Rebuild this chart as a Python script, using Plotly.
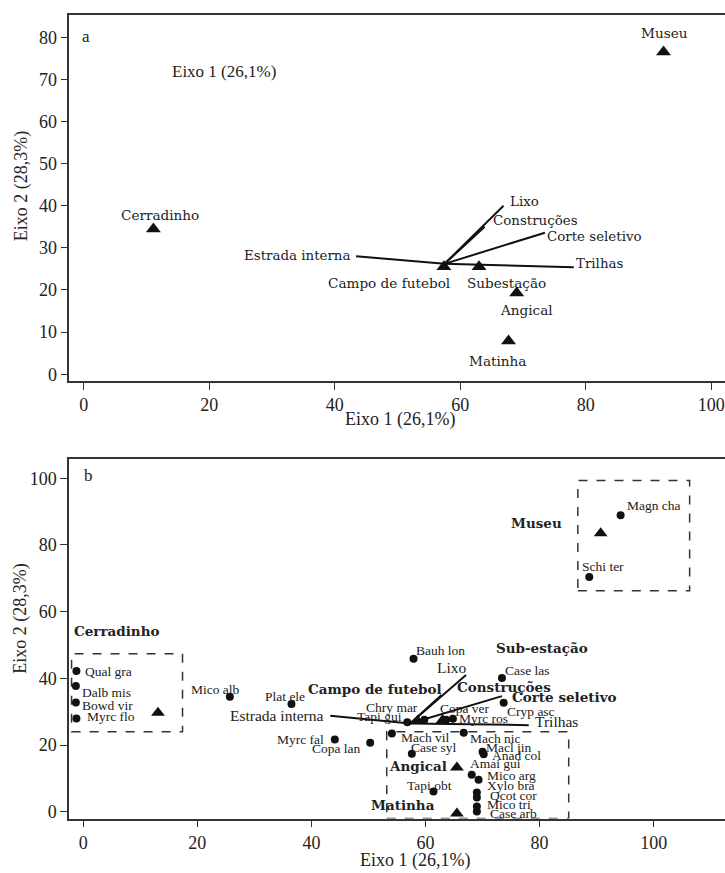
import plotly.graph_objects as go

# ---------------- Panel a data ----------------
a_sites = ["Museu", "Cerradinho", "Campo de futebol", "Subestação", "Angical", "Matinha"]
a_site_x = [92.4, 11.1, 57.4, 63.0, 69.0, 67.7]
a_site_y = [76.5, 34.5, 25.5, 25.5, 19.3, 7.9]
a_site_lx = [92.5, 12.2, 48.6, 67.4, 70.6, 65.9]
a_site_ly = [81.0, 37.7, 21.7, 21.7, 15.2, 3.2]

a_vec_names = ["Estrada interna", "Lixo", "Construções", "Corte seletivo", "Trilhas"]
a_vec_origin = (57.5, 26.2)
a_vec_x = [43.4, 66.9, 63.9, 73.5, 78.1]
a_vec_y = [28.0, 40.0, 35.0, 33.6, 25.4]
a_vec_lx = [42.8, 67.6, 64.9, 73.5, 78.1]
a_vec_ly = [28.1, 41.0, 36.5, 32.8, 26.2]
a_vec_anchor = ["right", "left", "left", "left", "left"]

# ---------------- Panel b data ----------------
b_sites = ["Cerradinho", "Museu", "Campo de futebol", "Sub-estação", "Angical", "Matinha"]
b_site_x = [13.1, 90.7, 58.6, 63.0, 65.5, 65.5]
b_site_y = [29.7, 83.5, 27.3, 27.5, 13.3, -0.5]
b_site_lx = [-1.9, 84.3, 51.2, 80.5, 58.6, 56.1]
b_site_ly = [54.1, 86.5, 36.8, 49.1, 13.6, 2.1]
b_site_anchor = ["left", "right", "center", "center", "center", "center"]

b_vec_names = ["Estrada interna", "Lixo", "Construções", "Corte seletivo", "Trilhas"]
b_vec_origin = (57.3, 26.5)
b_vec_x = [43.3, 67.1, 62.8, 73.4, 78.1]
b_vec_y = [28.8, 41.0, 35.0, 34.7, 26.0]
b_vec_lx = [42.6, 64.6, 65.2, 74.8, 78.9]
b_vec_ly = [29.0, 43.4, 37.5, 34.3, 27.2]
b_vec_anchor = ["right", "center", "left", "left", "left"]
b_vec_bold = [False, False, True, True, False]

species = ["Qual gra", "Dalb mis", "Bowd vir", "Myrc flo", "Mico alb", "Plat ele",
           "Myrc fal", "Copa lan", "Bauh lon", "Chry mar", "Tapi gui", "Copa ver",
           "Myrc ros", "Case las", "Cryp asc", "Mach vil", "Mach nic", "Case syl",
           "Macl jin", "Anad col", "Amai gui", "Mico arg", "Xylo bra", "Qcot cor",
           "Mico tri", "Case arb", "Tapi obt", "Magn cha", "Schi ter"]
sp_x = [-1.2, -1.3, -1.3, -1.2, 25.7, 36.5, 44.1, 50.3, 57.9, 59.8, 56.8, 63.6,
        64.8, 73.4, 73.7, 54.1, 66.7, 57.6, 70.0, 70.2, 68.1, 69.3, 69.0, 69.0,
        69.0, 69.0, 61.4, 94.2, 88.7]
sp_y = [42.2, 37.7, 32.8, 28.0, 34.5, 32.3, 21.7, 20.7, 45.9, 27.6, 26.9, 27.6,
        27.9, 40.1, 32.7, 23.5, 23.7, 17.4, 18.0, 17.3, 11.1, 9.6, 5.8, 4.3,
        1.6, 0.1, 6.1, 88.9, 70.4]
sp_lx = [-0.1, -0.6, -0.6, 0.3, 23.1, 35.4, 42.5, 44.4, 57.9, 54.1, 52.0, 66.9,
         70.2, 73.6, 78.5, 55.3, 67.5, 61.4, 70.2, 71.3, 67.5, 70.5, 70.5, 71.0,
         70.5, 71.0, 60.7, 95.0, 87.0]
sp_ly = [42.2, 35.8, 32.0, 28.7, 36.8, 34.5, 21.7, 19.0, 48.4, 31.3, 28.7, 31.0,
         28.0, 42.4, 30.2, 22.3, 22.0, 19.3, 19.3, 16.8, 14.6, 10.9, 7.8, 4.8,
         2.1, -0.5, 7.8, 91.9, 73.7]
sp_anchor = ["left", "left", "left", "left", "center", "center", "right", "center",
             "left", "center", "center", "center", "center", "left", "center", "left",
             "left", "center", "left", "left", "left", "left", "left", "left", "left",
             "left", "center", "left", "left"]

# dashed group boxes: x0, x1, y0, y1
box_x0 = [-2.05, 86.7, 53.2]
box_x1 = [17.4, 106.3, 85.1]
box_y0 = [24.0, 66.3, -2.0]
box_y1 = [47.4, 99.3, 24.0]

# tick values
a_xticks = [0, 20, 40, 60, 80, 100]
a_yticks = [0, 10, 20, 30, 40, 50, 60, 70, 80]
b_xticks = [0, 20, 40, 60, 80, 100]
b_yticks = [0, 20, 40, 60, 80, 100]

W, H = 725, 873
SERIF = "Liberation Serif"
LSERIF = "DejaVu Serif"
AX = "#333333"

fig = go.Figure()

# ---------- panel a ----------
for name, ex, ey in zip(a_vec_names, a_vec_x, a_vec_y):
    fig.add_trace(go.Scatter(x=[a_vec_origin[0], ex], y=[a_vec_origin[1], ey], mode="lines",
                             line=dict(color="#111", width=2), xaxis="x", yaxis="y",
                             showlegend=False, hoverinfo="skip"))
fig.add_trace(go.Scatter(x=a_site_x, y=a_site_y, mode="markers",
                         marker=dict(symbol="triangle-up", size=13, color="#111"),
                         xaxis="x", yaxis="y", showlegend=False))

# ---------- panel b ----------
for name, ex, ey in zip(b_vec_names, b_vec_x, b_vec_y):
    fig.add_trace(go.Scatter(x=[b_vec_origin[0], ex], y=[b_vec_origin[1], ey], mode="lines",
                             line=dict(color="#111", width=2), xaxis="x2", yaxis="y2",
                             showlegend=False, hoverinfo="skip"))
fig.add_trace(go.Scatter(x=sp_x, y=sp_y, mode="markers",
                         marker=dict(symbol="circle", size=8, color="#111"),
                         xaxis="x2", yaxis="y2", showlegend=False))
fig.add_trace(go.Scatter(x=b_site_x, y=b_site_y, mode="markers",
                         marker=dict(symbol="triangle-up", size=12, color="#111"),
                         xaxis="x2", yaxis="y2", showlegend=False))

ann = []
for t, x, y in zip(a_sites, a_site_lx, a_site_ly):
    ann.append(dict(x=x, y=y, xref="x", yref="y", text=t, showarrow=False,
                    xanchor="center", yanchor="middle",
                    font=dict(family=LSERIF, size=13.6, color="#222")))
for t, x, y, an in zip(a_vec_names, a_vec_lx, a_vec_ly, a_vec_anchor):
    ann.append(dict(x=x, y=y, xref="x", yref="y", text=t, showarrow=False,
                    xanchor=an, yanchor="middle",
                    font=dict(family=LSERIF, size=13.4, color="#222")))
ann.append(dict(x=22.4, y=71.9, xref="x", yref="y", text="Eixo 1 (26,1%)", showarrow=False,
                xanchor="center", yanchor="middle", font=dict(family=SERIF, size=17, color="#222")))
ann.append(dict(x=-0.6, y=80.2, xref="x", yref="y", text="a", showarrow=False,
                xanchor="left", yanchor="middle", font=dict(family=SERIF, size=17, color="#222")))

for t, x, y, an in zip(b_sites, b_site_lx, b_site_ly, b_site_anchor):
    ann.append(dict(x=x, y=y, xref="x2", yref="y2", text="<b>" + t + "</b>", showarrow=False,
                    xanchor=an, yanchor="middle",
                    font=dict(family=LSERIF, size=13.5, color="#222")))
for t, x, y, an, bd in zip(b_vec_names, b_vec_lx, b_vec_ly, b_vec_anchor, b_vec_bold):
    if bd:
        ann.append(dict(x=x, y=y, xref="x2", yref="y2", text="<b>" + t + "</b>", showarrow=False,
                        xanchor=an, yanchor="middle",
                        font=dict(family=LSERIF, size=13.5, color="#222")))
    else:
        ann.append(dict(x=x, y=y, xref="x2", yref="y2", text=t, showarrow=False,
                        xanchor=an, yanchor="middle",
                        font=dict(family=SERIF, size=15.5, color="#222")))
for t, x, y, an in zip(species, sp_lx, sp_ly, sp_anchor):
    ann.append(dict(x=x, y=y, xref="x2", yref="y2", text=t, showarrow=False,
                    xanchor=an, yanchor="middle",
                    font=dict(family=SERIF, size=13.5, color="#222")))
ann.append(dict(x=-0.2, y=100.7, xref="x2", yref="y2", text="b", showarrow=False,
                xanchor="left", yanchor="middle", font=dict(family=SERIF, size=17, color="#222")))

# axis titles
ann.append(dict(x=400 / W, y=1 - 421.7 / H, xref="paper", yref="paper", text="Eixo 1 (26,1%)",
                showarrow=False, xanchor="center", yanchor="middle",
                font=dict(family=SERIF, size=18, color="#222")))
ann.append(dict(x=21 / W, y=1 - 187 / H, xref="paper", yref="paper", text="Eixo 2 (28,3%)",
                showarrow=False, xanchor="center", yanchor="middle", textangle=-90,
                font=dict(family=SERIF, size=18, color="#222")))
ann.append(dict(x=415 / W, y=1 - 864 / H, xref="paper", yref="paper", text="Eixo 1 (26,1%)",
                showarrow=False, xanchor="center", yanchor="middle",
                font=dict(family=SERIF, size=18, color="#222")))
ann.append(dict(x=21 / W, y=1 - 621.7 / H, xref="paper", yref="paper", text="Eixo 2 (28,3%)",
                showarrow=False, xanchor="center", yanchor="middle", textangle=-90,
                font=dict(family=SERIF, size=18, color="#222")))

shapes = []
for x0, x1, y0, y1 in zip(box_x0, box_x1, box_y0, box_y1):
    shapes.append(dict(type="rect", xref="x2", yref="y2", x0=x0, x1=x1, y0=y0, y1=y1,
                       line=dict(color="#333", width=1.5, dash="dash")))

axis_common = dict(showline=True, linecolor=AX, linewidth=1.5, ticks="outside", ticklen=7,
                   tickwidth=1.2, tickcolor=AX, showgrid=False, zeroline=False,
                   tickfont=dict(family=SERIF, size=18, color="#222"))

fig.update_layout(
    width=W, height=H, margin=dict(l=0, r=0, t=0, b=0),
    paper_bgcolor="white", plot_bgcolor="white",
    xaxis=dict(domain=[69.3 / W, 1.0], anchor="y", range=[-2.3, 102.2],
               tickvals=a_xticks, mirror=True, **axis_common),
    yaxis=dict(domain=[1 - 382.7 / H, 1 - 15 / H], anchor="x", range=[-1.6, 85.3],
               tickvals=a_yticks, **axis_common),
    xaxis2=dict(domain=[69 / W, 1.0], anchor="y2", range=[-2.5, 112.5],
                tickvals=b_xticks, mirror=True, **axis_common),
    yaxis2=dict(domain=[1 - 822.3 / H, 1 - 460.7 / H], anchor="x2", range=[-2.0, 105.9],
                tickvals=b_yticks, **axis_common),
    annotations=ann, shapes=shapes,
)

fig.write_html("out.html", config={"displayModeBar": False},
               post_script="document.body.style.margin='0';document.body.style.overflow='hidden';")
